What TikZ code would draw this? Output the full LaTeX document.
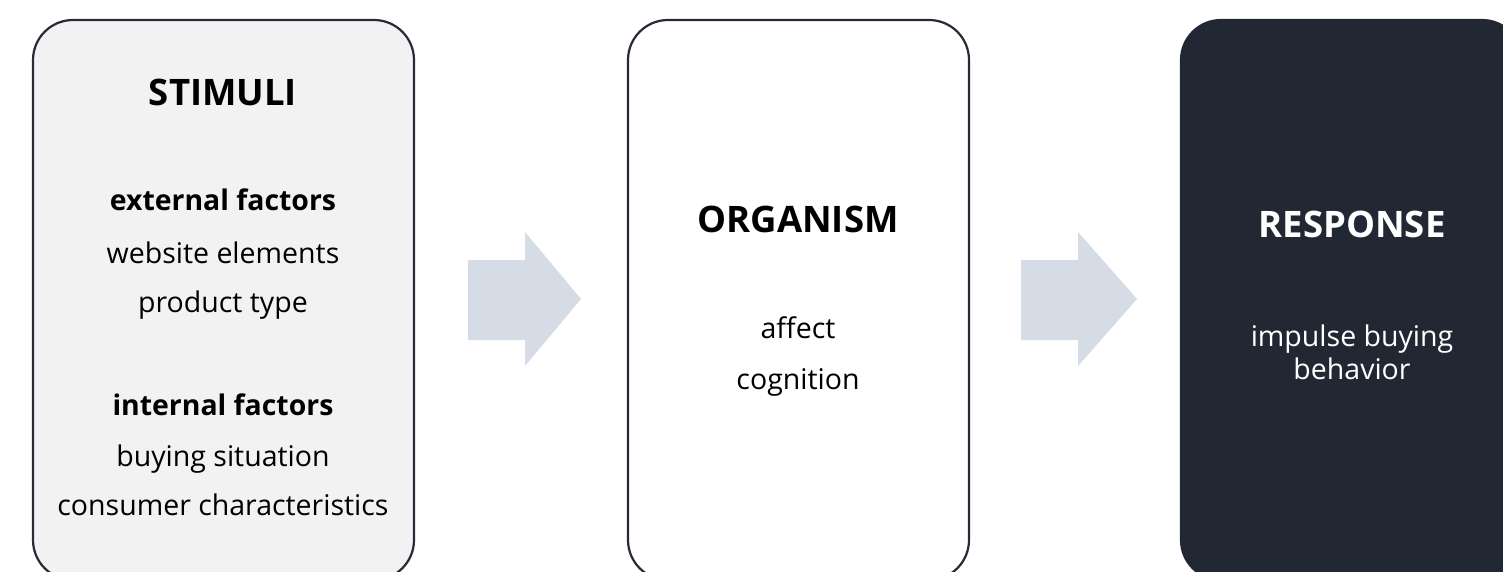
\documentclass[tikz,border=0pt]{standalone}
\usepackage{fontspec}
\setmainfont{Open Sans}
\definecolor{edge}{HTML}{262C36}
\definecolor{lightfill}{HTML}{F2F2F2}
\definecolor{darkfill}{HTML}{222833}
\definecolor{arrowfill}{HTML}{D6DCE5}
\tikzset{
  box/.style={draw=edge, line width=2.2pt, rounded corners=40pt, minimum height=560pt, inner sep=0pt},
  head/.style={font=\fontsize{36.5}{42}\selectfont\bfseries, inner sep=0pt, anchor=base},
  sub/.style={font=\fontsize{28.4}{34}\selectfont\bfseries, inner sep=0pt, anchor=base},
  txt/.style={font=\fontsize{28.5}{34}\selectfont, inner sep=0pt, anchor=base},
  blockarrow/.style={fill=arrowfill, draw=none}
}
\begin{document}
\begin{tikzpicture}[x=1pt,y=1pt]
\useasboundingbox (0,0) rectangle (1503,-572);
\clip (0,0) rectangle (1503,-572);
\fill[white] (0,0) rectangle (1503,-572);
% boxes
\node[box, fill=lightfill, minimum width=381pt] (stim) at (223.5,-300) {};
\node[box, fill=white, minimum width=341pt] (org) at (798.5,-300) {};
\node[box, fill=darkfill, draw=darkfill, minimum width=341pt] (resp) at (1351.5,-300) {};
% stimuli text
\node[head] (t1) at (223,-106) {STIMULI};
\node[sub] (t2) at (223,-210) {external factors};
\node[txt] (t3) at (223,-263) {website elements};
\node[txt] (t4) at (223,-312) {product type};
\node[sub] (t5) at (223,-415) {internal factors};
\node[txt] (t6) at (223,-466) {buying situation};
\node[txt] (t7) at (223,-515) {consumer characteristics};
% organism text
\node[head] (o1) at (798,-232) {ORGANISM};
\node[txt] (o2) at (798,-338) {affect};
\node[txt] (o3) at (798,-389) {cognition};
% response text
\node[head, text=white] (r1) at (1352,-237) {RESPONSE};
\node[txt, text=white] (r2) at (1352,-346) {impulse buying};
\node[txt, text=white] (r3) at (1352,-379) {behavior};
% block arrows
\fill[blockarrow] (468,-260) -- (525,-260) -- (525,-232) -- (581,-299) -- (525,-366) -- (525,-340) -- (468,-340) -- cycle;
\fill[blockarrow] (1021,-260) -- (1078,-260) -- (1078,-232) -- (1137,-299) -- (1078,-366) -- (1078,-340) -- (1021,-340) -- cycle;
\end{tikzpicture}
\end{document}
